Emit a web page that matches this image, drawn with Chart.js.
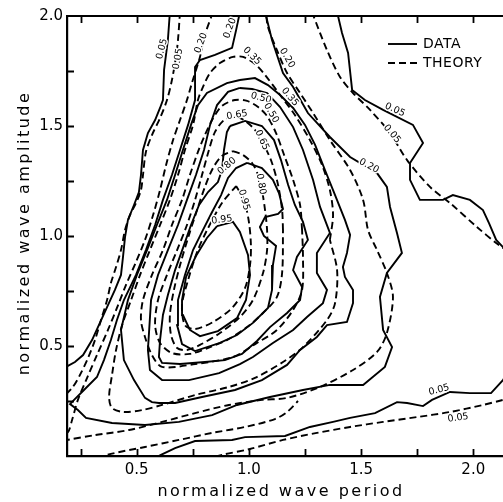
<!DOCTYPE html>
<html>
<head>
<meta charset="utf-8">
<script src="https://cdn.jsdelivr.net/npm/chart.js@4.4.1/dist/chart.umd.min.js"></script>
<style>
  html, body { margin: 0; padding: 0; background: #fff; }
  #wrap { width: 503px; height: 502px; position: relative; }
</style>
</head>
<body>
<div id="wrap"><canvas id="chart"></canvas></div>
<script>
// Tick positions and labels
const xTickValues = [0.25, 0.5, 0.75, 1.0, 1.25, 1.5, 1.75, 2.0];
const xTickLabels = ['', '0.5', '', '1.0', '', '1.5', '', '2.0'];
const yTickValues = [0.25, 0.5, 0.75, 1.0, 1.25, 1.5, 1.75, 2.0];
const yTickLabels = ['', '0.5', '', '1.0', '', '1.5', '', '2.0'];

// Measured contours, points as [normalized period, normalized amplitude]
const data05Left = [[0.648,2.018],[0.639,1.891],[0.622,1.755],[0.617,1.618],[0.604,1.582],[0.582,1.527],[0.550,1.468],[0.528,1.391],[0.519,1.277],[0.510,1.200],[0.488,1.141],[0.461,1.073],[0.448,0.995],[0.439,0.905],[0.430,0.823],[0.403,0.755],[0.372,0.686],[0.336,0.605],[0.301,0.527],[0.261,0.459],[0.225,0.427],[0.176,0.400]];
const data05Right = [[1.393,2.018],[1.415,1.923],[1.442,1.832],[1.460,1.664],[1.517,1.618],[1.598,1.573],[1.731,1.505],[1.776,1.423],[1.718,1.332],[1.718,1.255],[1.762,1.164],[1.865,1.164],[1.909,1.186],[1.985,1.164],[2.043,1.118],[2.070,1.059],[2.102,0.982],[2.132,0.950],[2.164,0.927]];
const data05Bottom = [[0.582,-0.009],[0.608,0.005],[0.671,0.036],[0.760,0.068],[0.925,0.073],[0.983,0.086],[1.161,0.091],[1.272,0.132],[1.375,0.155],[1.451,0.173],[1.562,0.195],[1.660,0.245],[1.705,0.241],[1.776,0.227],[1.816,0.255],[1.896,0.291],[1.985,0.286],[2.079,0.286],[2.132,0.345],[2.164,0.391]];
const data20 = [[0.960,2.018],[0.943,1.936],[0.925,1.855],[0.849,1.823],[0.782,1.800],[0.760,1.768],[0.760,1.618],[0.729,1.505],[0.693,1.391],[0.657,1.277],[0.617,1.164],[0.582,1.050],[0.541,0.936],[0.497,0.823],[0.443,0.709],[0.412,0.618],[0.385,0.527],[0.354,0.436],[0.323,0.359],[0.265,0.300],[0.221,0.255],[0.203,0.236],[0.238,0.209],[0.274,0.173],[0.390,0.150],[0.537,0.141],[0.688,0.155],[0.836,0.186],[0.947,0.232],[1.094,0.268],[1.241,0.300],[1.361,0.323],[1.509,0.323],[1.606,0.405],[1.638,0.495],[1.598,0.573],[1.584,0.723],[1.615,0.832],[1.682,0.923],[1.660,1.014],[1.629,1.132],[1.615,1.223],[1.571,1.286],[1.451,1.359],[1.361,1.450],[1.263,1.559],[1.197,1.677],[1.152,1.741],[1.103,1.891],[1.072,2.018]];
const data35 = [[0.960,1.709],[1.027,1.718],[1.085,1.686],[1.139,1.641],[1.197,1.582],[1.250,1.505],[1.295,1.414],[1.339,1.300],[1.384,1.186],[1.428,1.073],[1.451,1.005],[1.437,0.923],[1.419,0.859],[1.428,0.814],[1.464,0.755],[1.464,0.695],[1.437,0.609],[1.348,0.595],[1.303,0.541],[1.228,0.482],[1.170,0.414],[1.058,0.345],[0.938,0.300],[0.791,0.268],[0.671,0.241],[0.599,0.241],[0.568,0.245],[0.537,0.264],[0.488,0.345],[0.443,0.436],[0.430,0.573],[0.461,0.709],[0.501,0.823],[0.546,0.936],[0.590,1.050],[0.635,1.164],[0.671,1.277],[0.706,1.391],[0.742,1.505],[0.773,1.595],[0.813,1.650],[0.902,1.695],[0.960,1.709]];
const data50 = [[0.960,1.673],[1.014,1.668],[1.081,1.650],[1.139,1.586],[1.197,1.495],[1.241,1.391],[1.286,1.255],[1.317,1.132],[1.361,1.014],[1.303,0.923],[1.303,0.832],[1.348,0.755],[1.330,0.695],[1.259,0.632],[1.197,0.573],[1.107,0.514],[1.018,0.450],[0.960,0.418],[0.867,0.377],[0.733,0.345],[0.613,0.345],[0.559,0.391],[0.550,0.482],[0.564,0.709],[0.595,0.823],[0.639,0.936],[0.684,1.050],[0.724,1.164],[0.764,1.277],[0.800,1.391],[0.827,1.505],[0.858,1.595],[0.907,1.655],[0.960,1.673]];
const data65 = [[0.916,1.500],[0.983,1.523],[1.058,1.500],[1.112,1.436],[1.143,1.345],[1.175,1.232],[1.205,1.141],[1.241,1.064],[1.263,0.982],[1.214,0.905],[1.197,0.845],[1.237,0.768],[1.228,0.709],[1.170,0.650],[1.094,0.586],[1.036,0.523],[0.969,0.464],[0.893,0.436],[0.804,0.427],[0.693,0.418],[0.613,0.423],[0.599,0.450],[0.604,0.527],[0.617,0.641],[0.639,0.732],[0.671,0.845],[0.706,0.945],[0.742,1.050],[0.778,1.141],[0.818,1.200],[0.862,1.245],[0.880,1.300],[0.889,1.391],[0.902,1.473],[0.916,1.500]];
const data80 = [[0.992,1.332],[1.058,1.309],[1.107,1.255],[1.134,1.195],[1.152,1.123],[1.130,1.100],[1.072,1.086],[1.049,1.041],[1.067,1.000],[1.121,0.955],[1.107,0.868],[1.103,0.755],[1.085,0.673],[1.018,0.605],[0.947,0.550],[0.871,0.514],[0.760,0.477],[0.702,0.509],[0.680,0.595],[0.684,0.709],[0.715,0.823],[0.751,0.936],[0.795,1.027],[0.836,1.109],[0.876,1.186],[0.907,1.264],[0.943,1.309],[0.992,1.332]];
const data95 = [[0.858,1.045],[0.929,1.064],[0.960,1.018],[0.996,0.914],[1.005,0.823],[0.987,0.709],[0.947,0.627],[0.862,0.568],[0.782,0.545],[0.737,0.573],[0.706,0.641],[0.702,0.709],[0.720,0.814],[0.764,0.909],[0.813,0.991],[0.858,1.045]];

const theory05Left = [[0.693,2.018],[0.684,1.891],[0.675,1.814],[0.657,1.709],[0.635,1.618],[0.604,1.536],[0.568,1.459],[0.541,1.382],[0.528,1.277],[0.519,1.209],[0.497,1.150],[0.470,1.095],[0.448,1.027],[0.430,0.936],[0.408,0.859],[0.385,0.786],[0.368,0.709],[0.341,0.618],[0.314,0.527],[0.283,0.445],[0.247,0.368],[0.212,0.309],[0.158,0.255]];
const theory05Right = [[1.281,2.018],[1.348,1.845],[1.406,1.723],[1.464,1.650],[1.540,1.573],[1.629,1.468],[1.705,1.345],[1.807,1.223],[1.896,1.150],[2.016,1.041],[2.102,0.968],[2.164,0.923]];
const theory05Bottom = [[0.804,-0.018],[0.880,0.005],[1.005,0.032],[1.152,0.073],[1.303,0.105],[1.451,0.132],[1.598,0.155],[1.749,0.177],[1.896,0.200],[2.043,0.232],[2.132,0.255],[2.164,0.264]];
const theoryLowerBranch = [[0.328,-0.018],[0.368,0.005],[0.537,0.041],[0.688,0.073],[0.836,0.105],[0.983,0.132],[1.116,0.168],[1.170,0.200],[1.219,0.250]];
const theory20 = [[0.840,2.018],[0.804,1.914],[0.782,1.814],[0.746,1.695],[0.724,1.618],[0.693,1.527],[0.662,1.436],[0.631,1.323],[0.604,1.209],[0.573,1.095],[0.537,0.982],[0.497,0.882],[0.452,0.777],[0.417,0.686],[0.372,0.573],[0.323,0.459],[0.279,0.355],[0.238,0.255],[0.212,0.164],[0.194,0.109],[0.158,0.086],[0.158,0.068],[0.189,0.073],[0.314,0.095],[0.466,0.118],[0.613,0.155],[0.760,0.195],[0.911,0.232],[1.058,0.255],[1.170,0.264],[1.317,0.314],[1.464,0.391],[1.571,0.473],[1.615,0.559],[1.642,0.723],[1.615,0.832],[1.571,0.936],[1.531,1.027],[1.509,1.164],[1.451,1.300],[1.361,1.436],[1.286,1.559],[1.228,1.650],[1.170,1.741],[1.125,1.845],[1.085,1.950],[1.076,2.018]];
const theory35 = [[1.361,0.982],[1.375,1.095],[1.361,1.209],[1.326,1.323],[1.272,1.436],[1.205,1.550],[1.139,1.641],[1.072,1.732],[1.027,1.782],[0.974,1.814],[0.929,1.814],[0.871,1.786],[0.827,1.741],[0.795,1.677],[0.773,1.618],[0.751,1.505],[0.715,1.391],[0.684,1.277],[0.648,1.164],[0.604,1.050],[0.559,0.936],[0.515,0.823],[0.475,0.709],[0.435,0.595],[0.408,0.482],[0.390,0.368],[0.377,0.268],[0.390,0.218],[0.443,0.200],[0.524,0.209],[0.613,0.232],[0.760,0.277],[0.911,0.314],[1.027,0.355],[1.152,0.427],[1.241,0.495],[1.348,0.618],[1.384,0.695],[1.393,0.845],[1.361,0.982]];
const theory50 = [[1.237,1.027],[1.228,1.141],[1.197,1.255],[1.157,1.368],[1.121,1.468],[1.081,1.545],[1.041,1.586],[0.992,1.614],[0.938,1.618],[0.880,1.591],[0.836,1.527],[0.800,1.450],[0.773,1.382],[0.737,1.277],[0.702,1.164],[0.657,1.050],[0.617,0.936],[0.568,0.823],[0.528,0.709],[0.519,0.618],[0.537,0.541],[0.568,0.459],[0.613,0.405],[0.760,0.418],[0.929,0.450],[1.036,0.514],[1.125,0.573],[1.197,0.664],[1.237,0.755],[1.241,0.905],[1.237,1.027]];
const theory65 = [[1.152,1.027],[1.148,1.118],[1.130,1.232],[1.103,1.332],[1.067,1.414],[1.027,1.482],[0.978,1.527],[0.929,1.545],[0.889,1.527],[0.849,1.473],[0.822,1.391],[0.791,1.277],[0.760,1.164],[0.724,1.050],[0.680,0.936],[0.635,0.823],[0.595,0.709],[0.582,0.595],[0.604,0.514],[0.657,0.468],[0.737,0.464],[0.827,0.495],[0.902,0.527],[0.992,0.586],[1.063,0.650],[1.125,0.723],[1.148,0.832],[1.152,1.027]];
const theory80 = [[0.929,1.386],[0.974,1.368],[1.014,1.332],[1.041,1.277],[1.058,1.209],[1.072,1.118],[1.081,1.027],[1.081,0.936],[1.063,0.832],[1.018,0.709],[0.960,0.632],[0.871,0.559],[0.782,0.505],[0.724,0.482],[0.680,0.491],[0.653,0.550],[0.648,0.641],[0.666,0.755],[0.697,0.882],[0.733,1.005],[0.769,1.118],[0.804,1.223],[0.840,1.309],[0.880,1.364],[0.929,1.386]];
const theory95 = [[0.943,1.227],[0.978,1.164],[1.000,1.064],[1.009,0.959],[1.005,0.868],[0.983,0.764],[0.925,0.673],[0.840,0.609],[0.760,0.577],[0.715,0.595],[0.702,0.686],[0.729,0.800],[0.769,0.927],[0.818,1.036],[0.880,1.150],[0.943,1.227]];

// Contour level labels: [text, period, amplitude, angle in degrees]
const contourLabels = [
  ['0.05', 0.613, 1.850, -75], ['0.05', 1.651, 1.573, 25], ['0.05', 1.847, 0.300, -15],
  ['0.20', 0.916, 1.945, -70], ['0.20', 1.170, 1.809, 60], ['0.20', 1.535, 1.318, 28],
  ['0.35', 1.183, 1.632, 50], ['0.50', 1.054, 1.627, 15], ['0.65', 0.947, 1.550, -10],
  ['0.80', 0.902, 1.318, -40], ['0.95', 0.880, 1.073, -8],
  ['0.05', 0.684, 1.805, -80], ['0.05', 1.638, 1.464, 50], ['0.05', 1.932, 0.173, -8],
  ['0.20', 0.787, 1.877, -70], ['0.35', 1.014, 1.818, 45], ['0.50', 1.099, 1.559, 60],
  ['0.65', 1.058, 1.436, 65], ['0.80', 1.054, 1.236, 80], ['0.95', 0.978, 1.164, 75]
];

const INK = '#000';
const DASH = [7, 4];

function contour(points, dashed) {
  return {
    data: points.map(([x, y]) => ({ x, y })),
    showLine: true,
    borderColor: INK,
    borderWidth: 1.9,
    borderDash: dashed ? DASH : [],
    tension: dashed ? 0.3 : 0,
    pointRadius: 0,
    pointHoverRadius: 0,
    fill: false,
    clip: 0
  };
}

const datasets = [
  ...[data05Left, data05Right, data05Bottom, data20, data35, data50, data65, data80, data95].map(p => contour(p, false)),
  ...[theory05Left, theory05Right, theory05Bottom, theoryLowerBranch, theory20, theory35, theory50, theory65, theory80, theory95].map(p => contour(p, true))
];

const decorations = {
  id: 'decorations',
  afterDatasetsDraw(chart) {
    const { ctx, chartArea: a, scales: { x, y } } = chart;
    ctx.save();
    ctx.strokeStyle = INK;
    ctx.fillStyle = INK;

    // top frame line and inward tick marks
    ctx.lineWidth = 1.8;
    ctx.beginPath();
    ctx.moveTo(a.left, a.top);
    ctx.lineTo(a.right, a.top);
    xTickValues.forEach(v => {
      const px = Math.round(x.getPixelForValue(v)) + 0.5;
      ctx.moveTo(px, a.bottom);
      ctx.lineTo(px, a.bottom - 7);
      ctx.moveTo(px, a.top);
      ctx.lineTo(px, a.top + 7);
    });
    yTickValues.slice(0, -1).forEach(v => {
      const py = Math.round(y.getPixelForValue(v)) + 0.5;
      ctx.moveTo(a.left, py);
      ctx.lineTo(a.left + 7, py);
    });
    ctx.stroke();

    // contour level labels
    ctx.font = '9.5px "DejaVu Sans"';
    ctx.textAlign = 'center';
    ctx.textBaseline = 'middle';
    ctx.lineJoin = 'round';
    contourLabels.forEach(([t, lx, ly, ang]) => {
      ctx.save();
      ctx.translate(x.getPixelForValue(lx), y.getPixelForValue(ly));
      ctx.rotate(ang * Math.PI / 180);
      ctx.strokeStyle = '#fff';
      ctx.lineWidth = 3;
      ctx.strokeText(t, 0, 0);
      ctx.fillText(t, 0, 0);
      ctx.restore();
    });

    // legend
    const lx = a.right - 115, tx = a.right - 80;
    ctx.lineWidth = 1.9;
    ctx.beginPath();
    ctx.moveTo(lx, a.top + 28);
    ctx.lineTo(lx + 29, a.top + 28);
    ctx.stroke();
    ctx.setLineDash(DASH);
    ctx.beginPath();
    ctx.moveTo(lx, a.top + 47);
    ctx.lineTo(lx + 30, a.top + 47);
    ctx.stroke();
    ctx.setLineDash([]);
    ctx.font = '14px "DejaVu Sans"';
    ctx.textAlign = 'left';
    ctx.letterSpacing = '0.5px';
    ctx.fillText('DATA', tx, a.top + 28);
    ctx.fillText('THEORY', tx, a.top + 47);

    // axis titles
    ctx.font = '16px "DejaVu Sans"';
    ctx.letterSpacing = '2.5px';
    ctx.textAlign = 'center';
    ctx.textBaseline = 'alphabetic';
    ctx.fillText('normalized wave period', 281, 496);
    ctx.save();
    ctx.translate(29, 233);
    ctx.rotate(-Math.PI / 2);
    ctx.fillText('normalized wave amplitude', 0, 0);
    ctx.restore();

    ctx.restore();
  }
};

new Chart(document.getElementById('chart'), {
  type: 'scatter',
  data: { datasets },
  options: {
    responsive: true,
    maintainAspectRatio: false,
    animation: false,
    events: [],
    layout: { padding: { top: 16, left: 0, right: 0, bottom: 0 } },
    plugins: { legend: { display: false }, tooltip: { enabled: false } },
    scales: {
      x: {
        type: 'linear',
        min: 0.1894,
        max: 2.1324,
        afterBuildTicks: s => { s.ticks = xTickValues.map(v => ({ value: v })); },
        afterFit: s => { s.height = 46; },
        grid: { display: false, drawTicks: false },
        border: { display: true, color: INK, width: 2.2 },
        ticks: {
          autoSkip: false, maxRotation: 0, padding: 5, color: INK,
          font: { family: 'DejaVu Sans', size: 15 },
          callback: (v, i) => xTickLabels[i]
        }
      },
      y: {
        type: 'linear',
        min: 0,
        max: 2,
        afterBuildTicks: s => { s.ticks = yTickValues.map(v => ({ value: v })); },
        afterFit: s => { s.width = 67; },
        grid: { display: false, drawTicks: false },
        border: { display: true, color: INK, width: 2.2 },
        ticks: {
          autoSkip: false, padding: 4, color: INK,
          font: { family: 'DejaVu Sans', size: 15 },
          callback: (v, i) => yTickLabels[i]
        }
      }
    }
  },
  plugins: [decorations]
});
</script>
</body>
</html>
